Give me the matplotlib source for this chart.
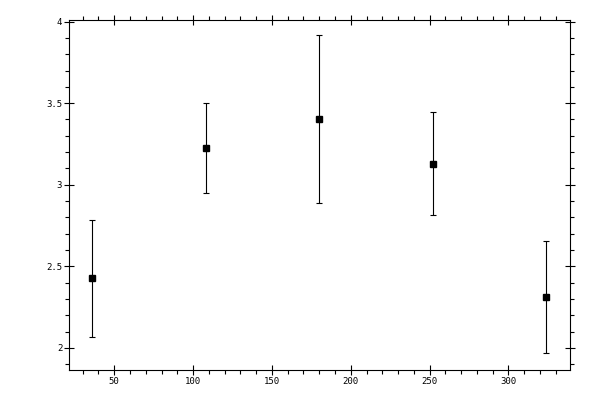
import matplotlib

matplotlib.use("Agg")
import matplotlib.pyplot as plt
from matplotlib.ticker import MultipleLocator

# values
x = [36, 108, 180, 252, 324]
y = [2.427, 3.224, 3.402, 3.128, 2.311]
err = [0.36, 0.274, 0.515, 0.316, 0.342]

plt.rcParams["font.family"] = ["DejaVu Sans Mono"]

fig = plt.figure(figsize=(6, 4), dpi=100)
ax = fig.add_axes([0.1158, 0.075, 0.8342, 0.876])

ax.errorbar(
    x, y, yerr=err, fmt="s", color="black", ms=5, lw=0.8,
    capsize=2.2, capthick=0.8, elinewidth=0.8,
)

ax.set_xlim(21.6, 339)
ax.set_ylim(1.865, 4.012)
ax.xaxis.set_major_locator(MultipleLocator(50))
ax.xaxis.set_minor_locator(MultipleLocator(10))
ax.yaxis.set_major_locator(MultipleLocator(0.5))
ax.yaxis.set_minor_locator(MultipleLocator(0.1))
ax.yaxis.set_major_formatter(plt.FuncFormatter(lambda v, p: f"{v:g}"))

ax.tick_params(which="major", direction="inout", length=6.5, width=0.8,
               top=True, right=True, labelsize=6.5, pad=2)
ax.tick_params(which="minor", direction="out", length=2.8, width=0.8,
               top=True, right=True)
for s in ax.spines.values():
    s.set_linewidth(0.8)

fig.savefig("out.png", dpi=100)
